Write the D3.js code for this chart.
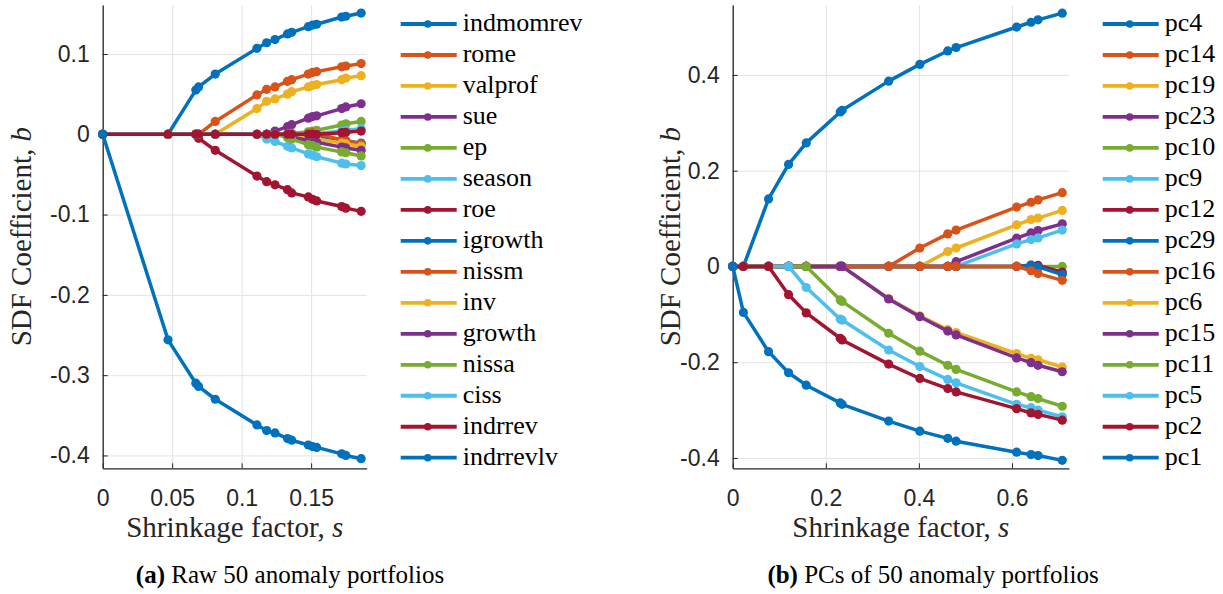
<!DOCTYPE html>
<html>
<head>
<meta charset="utf-8">
<script src="https://cdn.jsdelivr.net/npm/d3@7"></script>
<style>
  body { margin: 0; background: #fff; }
  svg { display: block; }
</style>
</head>
<body>
<svg id="chart" width="1223" height="594"></svg>
<script>
// ---------------------------------------------------------------
// Data — panel (a): raw anomaly portfolios
// ---------------------------------------------------------------
const sRaw = [0, 0.047, 0.067, 0.069, 0.081, 0.111, 0.118, 0.124, 0.133, 0.136, 0.148, 0.151, 0.154, 0.172, 0.175, 0.186];

const rawNames = ["indmomrev", "rome", "valprof", "sue", "ep", "season", "roe",
  "igrowth", "nissm", "inv", "growth", "nissa", "ciss", "indrrev", "indrrevlv"];

const indmomrev = [0, 0, 0.055, 0.059, 0.075, 0.107, 0.114, 0.118, 0.125, 0.127, 0.134, 0.136, 0.137, 0.146, 0.147, 0.151];
const rome      = [0, 0, 0, 0, 0.016, 0.049, 0.056, 0.059, 0.066, 0.068, 0.075, 0.077, 0.078, 0.084, 0.085, 0.088];
const valprof   = [0, 0, 0, 0, 0, 0.032, 0.041, 0.044, 0.050, 0.053, 0.059, 0.061, 0.062, 0.068, 0.070, 0.073];
const sue       = [0, 0, 0, 0, 0, 0, 0, 0.004, 0.0095, 0.012, 0.020, 0.022, 0.023, 0.032, 0.034, 0.038];
const ep        = [0, 0, 0, 0, 0, 0, 0, 0, 0, 0.001, 0.003, 0.004, 0.005, 0.0115, 0.013, 0.016];
const season    = [0, 0, 0, 0, 0, 0, -0.006, -0.009, -0.015, -0.017, -0.0245, -0.026, -0.028, -0.036, -0.037, -0.039];
const roe       = [0, 0, 0, -0.005, -0.020, -0.052, -0.059, -0.063, -0.069, -0.073, -0.078, -0.081, -0.083, -0.090, -0.092, -0.096];
const igrowth   = [0, 0, 0, 0, 0, 0, 0, 0, 0, 0, 0, -0.001, -0.002, -0.007, -0.008, -0.011];
const nissm     = [0, 0, 0, 0, 0, 0, 0, 0, 0, 0, 0.001, 0.002, 0.001, -0.007, -0.008, -0.012];
const inv       = [0, 0, 0, 0, 0, 0, 0, 0, 0, 0, -0.004, -0.005, -0.006, -0.011, -0.012, -0.015];
const growth    = [0, 0, 0, 0, 0, 0, 0, 0, -0.002, -0.003, -0.008, -0.009, -0.010, -0.016, -0.017, -0.020];
const nissa     = [0, 0, 0, 0, 0, 0, 0, 0, -0.004, -0.006, -0.013, -0.014, -0.016, -0.022, -0.023, -0.027];
const ciss      = [0, 0, 0, 0, 0, 0, 0, 0, 0, 0, 0, 0, 0.001, 0.004, 0.005, 0.007];
const indrrev   = [0, 0, 0, 0, 0, 0, 0, 0, 0, 0, 0, 0, 0, 0.002, 0.0025, 0.004];
const indrrevlv = [0, -0.256, -0.310, -0.314, -0.330, -0.362, -0.369, -0.372, -0.379, -0.381, -0.387, -0.389, -0.390, -0.398, -0.400, -0.404];

const rawValues = [indmomrev, rome, valprof, sue, ep, season, roe, igrowth, nissm, inv, growth, nissa, ciss, indrrev, indrrevlv];

const rawXTicks = [0, 0.05, 0.1, 0.15];
const rawYTicks = [0.1, 0, -0.1, -0.2, -0.3, -0.4];

// ---------------------------------------------------------------
// Data — panel (b): principal components
// ---------------------------------------------------------------
const sPc = [0, 0.023, 0.077, 0.120, 0.158, 0.231, 0.235, 0.335, 0.402, 0.462, 0.480, 0.610, 0.641, 0.656, 0.708];

const pcNames = ["pc4", "pc14", "pc19", "pc23", "pc10", "pc9", "pc12", "pc29",
  "pc16", "pc6", "pc15", "pc11", "pc5", "pc2", "pc1"];

const pc4  = [0, 0, 0.141, 0.213, 0.258, 0.3225, 0.326, 0.387, 0.422, 0.450, 0.457, 0.500, 0.510, 0.515, 0.529];
const pc14 = [0, 0, 0, 0, 0, 0, 0, 0, 0.0385, 0.068, 0.076, 0.124, 0.134, 0.139, 0.154];
const pc19 = [0, 0, 0, 0, 0, 0, 0, 0, 0, 0.031, 0.0385, 0.087, 0.098, 0.101, 0.117];
const pc23 = [0, 0, 0, 0, 0, 0, 0, 0, 0, 0, 0.010, 0.059, 0.070, 0.075, 0.089];
const pc10 = [0, 0, 0, 0, 0, 0, 0, 0, 0, 0, 0, 0, 0, 0, 0];
const pc9  = [0, 0, 0, 0, 0, 0, 0, 0, 0, 0, 0, 0.047, 0.056, 0.0595, 0.076];
const pc12 = [0, 0, 0, 0, 0, 0, 0, 0, 0, 0, 0, 0, 0.003, 0.002, -0.012];
const pc29 = [0, 0, 0, 0, 0, 0, 0, 0, 0, 0, 0, 0, 0.002, -0.001, -0.017];
const pc16 = [0, 0, 0, 0, 0, 0, 0, 0, 0, 0, 0, 0, -0.009, -0.015, -0.029];
const pc6  = [0, 0, 0, 0, 0, 0, 0, -0.067, -0.103, -0.132, -0.138, -0.182, -0.192, -0.195, -0.210];
const pc15 = [0, 0, 0, 0, 0, 0, 0, -0.068, -0.105, -0.135, -0.143, -0.191, -0.201, -0.2065, -0.220];
const pc11 = [0, 0, 0, 0, 0, -0.070, -0.073, -0.1395, -0.177, -0.2065, -0.215, -0.262, -0.272, -0.276, -0.292];
const pc5  = [0, 0, 0, 0, -0.044, -0.110, -0.112, -0.1745, -0.209, -0.236, -0.243, -0.288, -0.295, -0.300, -0.314];
const pc2  = [0, 0, 0, -0.059, -0.097, -0.150, -0.1535, -0.204, -0.234, -0.255, -0.262, -0.297, -0.306, -0.309, -0.321];
const pc1  = [0, -0.096, -0.178, -0.222, -0.248, -0.285, -0.288, -0.323, -0.344, -0.359, -0.365, -0.388, -0.393, -0.395, -0.405];

const pcValues = [pc4, pc14, pc19, pc23, pc10, pc9, pc12, pc29, pc16, pc6, pc15, pc11, pc5, pc2, pc1];

const pcXTicks = [0, 0.2, 0.4, 0.6];
const pcYTicks = [0.4, 0.2, 0, -0.2, -0.4];

// MATLAB default line colour order
const colorOrder = ["#0072BD", "#D95319", "#EDB120", "#7E2F8E", "#77AC30", "#4DBEEE", "#A2142F"];

// ---------------------------------------------------------------
// Drawing
// ---------------------------------------------------------------
const svg = d3.select("#chart");
const AXIS = "#262626";
const GRID = "#e3e3e3";
const SANS = "'Liberation Sans', Arial, sans-serif";
const SERIF = "'Liberation Serif', 'Times New Roman', serif";

function drawPanel(p) {
	const x = d3.scaleLinear().domain(p.xDomain).range(p.xRange);
	const y = d3.scaleLinear().domain(p.yDomain).range(p.yRange);
	const g = svg.append("g");
	const iW = p.xRange[1] - p.xRange[0];
	const iH = p.yRange[0] - p.yRange[1];

	// grid
	g.append("g")
		.attr("transform", `translate(0,${p.yRange[0]})`)
		.call(d3.axisBottom(x).tickValues(p.xTicks).tickSize(-iH).tickFormat(""))
		.call((gEl) => {
			gEl.select(".domain").remove();
			gEl.selectAll("line").style("stroke", GRID).style("stroke-width", 1);
		});
	g.append("g")
		.attr("transform", `translate(${p.xRange[0]},0)`)
		.call(d3.axisLeft(y).tickValues(p.yTicks).tickSize(-iW).tickFormat(""))
		.call((gEl) => {
			gEl.select(".domain").remove();
			gEl.selectAll("line").style("stroke", GRID).style("stroke-width", 1);
		});

	// axes (left + bottom, ticks pointing inward)
	g.append("g")
		.attr("transform", `translate(0,${p.yRange[0]})`)
		.call(d3.axisBottom(x).tickValues(p.xTicks).tickSize(-5).tickSizeOuter(0)
			.tickPadding(21).tickFormat((d) => String(d)))
		.call((gEl) => {
			gEl.select(".domain").style("stroke", AXIS).style("stroke-width", 1.3);
			gEl.selectAll("line").style("stroke", AXIS);
			gEl.selectAll("text").style("fill", AXIS).style("font-family", SANS).style("font-size", "23px");
		});
	g.append("g")
		.attr("transform", `translate(${p.xRange[0]},0)`)
		.call(d3.axisLeft(y).tickValues(p.yTicks).tickSize(-5).tickSizeOuter(0)
			.tickPadding(13).tickFormat((d) => String(d)))
		.call((gEl) => {
			gEl.select(".domain").style("stroke", AXIS).style("stroke-width", 1.3);
			gEl.selectAll("line").style("stroke", AXIS);
			gEl.selectAll("text").style("fill", AXIS).style("font-family", SANS).style("font-size", "23px");
		});

	// series
	const line = d3.line().x((d) => x(d[0])).y((d) => y(d[1]));
	p.values.forEach((vals, i) => {
		const pts = vals.map((v, j) => [p.xs[j], v]);
		const col = colorOrder[i % colorOrder.length];
		const sg = g.append("g");
		sg.append("path")
			.datum(pts)
			.attr("fill", "none")
			.attr("stroke", col)
			.attr("stroke-width", 3.5)
			.attr("stroke-linejoin", "round")
			.attr("d", line);
		sg.selectAll("circle")
			.data(pts)
			.enter()
			.append("circle")
			.attr("cx", (d) => x(d[0]))
			.attr("cy", (d) => y(d[1]))
			.attr("r", 4.6)
			.attr("fill", col);
	});

	// legend
	const lg = g.append("g").attr("transform", `translate(${p.legendX},0)`);
	p.names.forEach((name, i) => {
		const col = colorOrder[i % colorOrder.length];
		const yy = 24 + i * 30.98;
		lg.append("line")
			.attr("x1", 0).attr("x2", 56)
			.attr("y1", yy).attr("y2", yy)
			.attr("stroke", col).attr("stroke-width", 3.8);
		lg.append("circle").attr("cx", 27).attr("cy", yy).attr("r", 3.8).attr("fill", col);
		lg.append("text")
			.attr("x", 62).attr("y", yy + 7)
			.style("font-family", SERIF).style("font-size", "26px").style("fill", "#000")
			.text(name);
	});

	// axis titles
	const xt = g.append("text")
		.attr("x", (p.xRange[0] + p.xRange[1]) / 2).attr("y", 537)
		.attr("text-anchor", "middle")
		.style("font-family", SERIF).style("font-size", "29px").style("fill", AXIS);
	xt.append("tspan").text("Shrinkage factor, ");
	xt.append("tspan").style("font-style", "italic").text("s");

	const yt = g.append("text")
		.attr("transform", `translate(${p.yLabelX},${(p.yRange[0] + p.yRange[1]) / 2}) rotate(-90)`)
		.attr("text-anchor", "middle")
		.style("font-family", SERIF).style("font-size", "29px").style("fill", AXIS);
	yt.append("tspan").text("SDF Coefficient, ");
	yt.append("tspan").style("font-style", "italic").text("b");

	// caption
	const cap = g.append("text")
		.attr("x", p.captionX).attr("y", 583)
		.attr("text-anchor", "middle")
		.style("font-family", SERIF).style("font-size", "25px").style("fill", "#000");
	cap.append("tspan").style("font-weight", "bold").text(p.captionTag);
	cap.append("tspan").text(" " + p.caption);
}

drawPanel({
	xs: sRaw, values: rawValues, names: rawNames,
	xDomain: [0, 0.19], yDomain: [-0.416, 0.161],
	xRange: [102.7, 366.7], yRange: [468.3, 5],
	xTicks: rawXTicks, yTicks: rawYTicks,
	legendX: 400.7, yLabelX: 31,
	captionX: 290, captionTag: "(a)", caption: "Raw 50 anomaly portfolios",
});

drawPanel({
	xs: sPc, values: pcValues, names: pcNames,
	xDomain: [0, 0.7225], yDomain: [-0.4216, 0.546],
	xRange: [732.7, 1069], yRange: [468.3, 5],
	xTicks: pcXTicks, yTicks: pcYTicks,
	legendX: 1102.7, yLabelX: 680,
	captionX: 933, captionTag: "(b)", caption: "PCs of 50 anomaly portfolios",
});
</script>
</body>
</html>
